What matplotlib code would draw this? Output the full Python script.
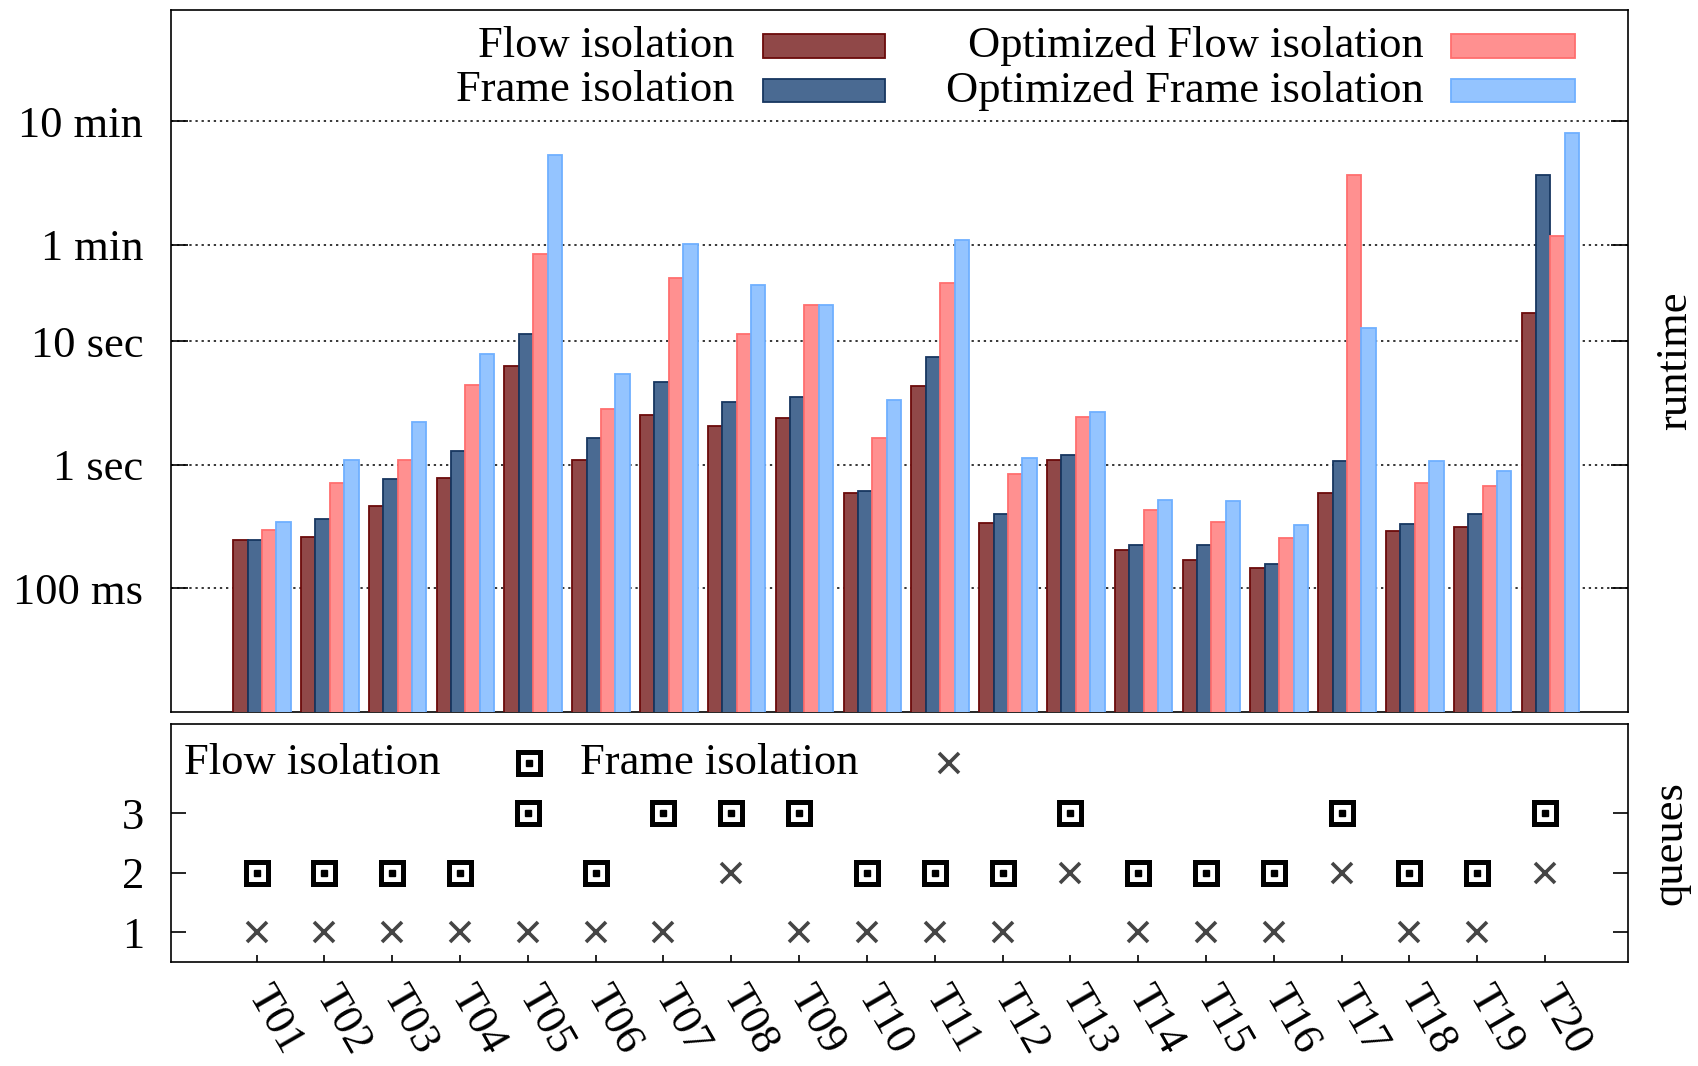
import matplotlib.pyplot as plt
from matplotlib.patches import Rectangle

plt.rcParams["font.family"] = ["Liberation Serif", "DejaVu Serif"]
plt.rcParams["font.size"] = 32

# runtime in seconds
tests = ["T%02d" % i for i in range(1, 21)]
flow = [0.245, 0.261, 0.467, 0.786, 6.24, 1.10, 2.53, 2.04, 2.38, 0.594,
        4.36, 0.334, 1.10, 0.204, 0.169, 0.145, 0.594, 0.292, 0.314, 16.8]
frame = [0.245, 0.364, 0.76, 1.29, 11.4, 1.64, 4.63, 3.22, 3.53, 0.612,
         7.38, 0.397, 1.20, 0.225, 0.225, 0.155, 1.07, 0.332, 0.397, 221]
opt_flow = [0.295, 0.716, 1.10, 4.38, 50.8, 2.83, 32.2, 11.4, 19.6, 1.65,
            29.7, 0.835, 2.45, 0.428, 0.344, 0.253, 222, 0.716, 0.673, 71.1]
opt_frame = [0.343, 1.10, 2.21, 7.86, 318, 5.42, 60.6, 28.3, 19.6, 3.32,
             65.3, 1.13, 2.67, 0.513, 0.509, 0.324, 12.8, 1.07, 0.895, 487]

# queues
flow_queues = [2, 2, 2, 2, 3, 2, 3, 3, 3, 2, 2, 2, 3, 2, 2, 2, 3, 2, 2, 3]
frame_queues = [1, 1, 1, 1, 1, 1, 1, 2, 1, 1, 1, 1, 2, 1, 1, 1, 2, 1, 1, 2]

series = [
    ("Flow isolation", flow, "#904848", "#6b0a0a"),
    ("Frame isolation", frame, "#4a6a92", "#173660"),
    ("Optimized Flow isolation", opt_flow, "#ff9090", "#ff6e6e"),
    ("Optimized Frame isolation", opt_frame, "#94c4ff", "#6fb0ff"),
]

fig = plt.figure(figsize=(16.99, 10.66), dpi=100)
ax = fig.add_axes([0.1006, 0.3321, 0.8579, 0.6588])
ax2 = fig.add_axes([0.1006, 0.0976, 0.8579, 0.2232])

x = list(range(len(tests)))
width = 0.212
for k, (name, vals, fc, ec) in enumerate(series):
    pos = [i + (k - 1.5) * width for i in x]
    ax.bar(pos, vals, width=width, bottom=0.001, color=fc, edgecolor=ec,
           linewidth=1.3, zorder=3)

ax.set_yscale("log")
ax.set_ylim(0.01, 4800)
ax.set_xlim(-1.342, 20.15)
ax.set_yticks([0.1, 1, 10, 60, 600])
ax.set_yticklabels(["100 ms", "1 sec", "10 sec", "1 min", "10 min"])
ax.minorticks_off()
ax.set_xticks([])
ax.tick_params(axis="y", direction="in", length=12, width=1.2, pad=20,
               right=True)
ax.grid(axis="y", color="black", linestyle=(0, (1.5, 2.5)), linewidth=1.1,
        zorder=1)
ax.yaxis.set_label_position("right")
ax.set_ylabel("runtime", labelpad=19)

# legend drawn by hand: text right-aligned, swatch to the right
rows = [0.9485, 0.8850]
cols = [(0.3867, 0.4059, 0.0840), (0.8596, 0.8784, 0.0850)]
for k, (name, vals, fc, ec) in enumerate(series):
    tx, px, pw = cols[k // 2]
    ty = rows[k % 2]
    ax.text(tx, ty, name, transform=ax.transAxes, ha="right", va="center")
    ax.add_patch(Rectangle((px, ty - 0.017), pw, 0.034, transform=ax.transAxes,
                           facecolor=fc, edgecolor=ec, linewidth=1.3))

for sp in ax.spines.values():
    sp.set_linewidth(1.2)

# queues panel
ax2.plot(x, flow_queues, "s", markersize=15.5, markerfacecolor="white",
         markeredgecolor="black", markeredgewidth=3.6, linestyle="none")
ax2.plot(x, flow_queues, "s", markersize=4, color="black", linestyle="none")
ax2.plot(x, frame_queues, "x", markersize=15, markeredgecolor="#454545",
         markeredgewidth=2.6, linestyle="none")

ax2.set_xlim(-1.262, 20.23)
ax2.set_ylim(0.5, 4.5)
ax2.set_yticks([1, 2, 3])
ax2.set_xticks(x)
ax2.set_xticklabels(tests, rotation=-60, ha="left", va="center",
                    rotation_mode="anchor")
ax2.tick_params(axis="y", direction="in", length=11, width=1.2, pad=19,
                right=True)
ax2.tick_params(axis="x", direction="in", length=5, width=1.2, pad=19)
ax2.yaxis.set_label_position("right")
ax2.set_ylabel("queues", labelpad=16)

ly = 0.838
ax2.text(0.009, ly, "Flow isolation", transform=ax2.transAxes, ha="left",
         va="center")
ax2.plot([0.2456], [ly], "s", markersize=15.5, markerfacecolor="white",
         markeredgecolor="black", markeredgewidth=3.6,
         transform=ax2.transAxes)
ax2.plot([0.2456], [ly], "s", markersize=4, color="black",
         transform=ax2.transAxes)
ax2.text(0.281, ly, "Frame isolation", transform=ax2.transAxes, ha="left",
         va="center")
ax2.plot([0.534], [ly], "x", markersize=15, markeredgecolor="#454545",
         markeredgewidth=2.6, transform=ax2.transAxes)

for sp in ax2.spines.values():
    sp.set_linewidth(1.2)

fig.savefig("out.png", dpi=100)
